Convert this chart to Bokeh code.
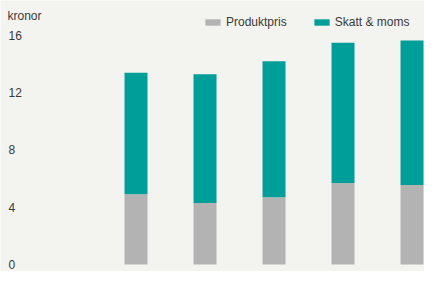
from bokeh.plotting import figure
from bokeh.models import Range1d, ColumnDataSource, Legend, LegendItem, Label, LabelSet
from bokeh.core.properties import value
from bokeh.embed import file_html
from bokeh.resources import INLINE

# ---- data ----
positions = [0, 1, 2, 3, 4]
produktpris = [4.9, 4.3, 4.7, 5.7, 5.55]
skatt_moms = [8.5, 9.0, 9.5, 9.8, 10.1]
series_names = ["Produktpris", "Skatt & moms"]
y_ticks = [0, 4, 8, 12, 16]
y_tick_labels = ["0", "4", "8", "12", "16"]
unit_label = "kronor"

BG = "#f3f3ef"
GRAY = "#b3b3b3"
TEAL = "#009e99"
TXT = "#3a3a3a"
FONT = "Liberation Sans"

# ranges chosen so the plotting frame covers the whole canvas
x_start, x_end = -1.964, 4.181
y_start, y_end = -0.489, 18.445

p = figure(width=424, height=271, output_backend="svg", toolbar_location=None,
           x_range=Range1d(x_start, x_end), y_range=Range1d(y_start, y_end),
           x_axis_location=None, y_axis_location=None,
           min_border_left=0, min_border_right=0, min_border_top=0, min_border_bottom=0)
p.background_fill_color = BG
p.border_fill_color = BG
p.outline_line_color = None
p.xgrid.visible = False
p.ygrid.visible = False

src = ColumnDataSource(dict(x=positions, a=produktpris, b=skatt_moms))
rs = p.vbar_stack(["a", "b"], x="x", width=0.333, source=src,
                  color=[GRAY, TEAL], line_color=None)

# y tick labels, left aligned near the left edge
tick_src = ColumnDataSource(dict(x=[x_start] * len(y_ticks), y=y_ticks, t=y_tick_labels))
p.add_layout(LabelSet(x="x", y="y", text="t", source=tick_src, x_offset=8,
                      text_align="left", text_baseline="middle",
                      text_font=value(FONT), text_font_size=value("12px"),
                      text_color=value(TXT)))

p.add_layout(Label(x=x_start, y=y_ticks[-1], text=unit_label, x_offset=7, y_offset=19,
                   text_align="left", text_baseline="middle",
                   text_font=FONT, text_font_size="12px", text_color=TXT))

legend = Legend(items=[LegendItem(label=series_names[0], renderers=[rs[0]]),
                       LegendItem(label=series_names[1], renderers=[rs[1]])],
                orientation="horizontal", location=(203, 242),
                glyph_width=19, glyph_height=8, label_standoff=4, spacing=25,
                padding=0, margin=0, border_line_color=None,
                background_fill_alpha=0,
                label_text_font=FONT, label_text_font_size="12px", label_text_color=TXT)
p.add_layout(legend)

open("out.html", "w").write(file_html(p, INLINE))
